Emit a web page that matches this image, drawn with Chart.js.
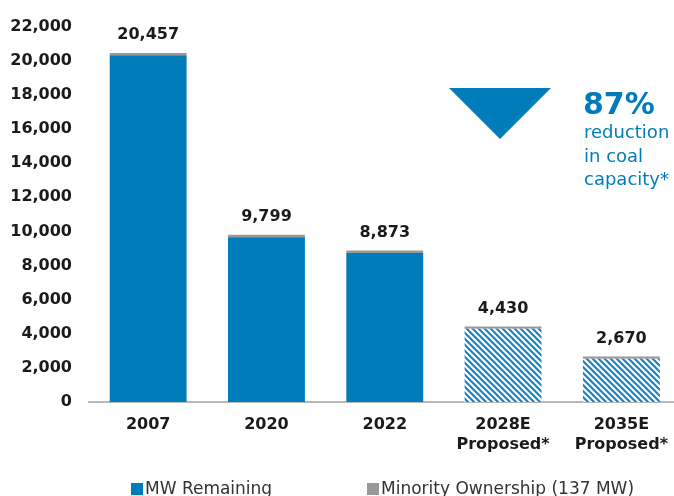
<!DOCTYPE html>
<html>
<head>
<meta charset="utf-8">
<script src="https://cdn.jsdelivr.net/npm/chart.js@4.4.1/dist/chart.umd.min.js"></script>
<style>
  html, body { margin: 0; padding: 0; background: #fff; overflow: hidden; width: 674px; height: 496px; }
  #wrap { position: relative; width: 674px; height: 496px; overflow: hidden; }
  canvas { position: absolute; left: 0; top: 0; }
  .legend { position: absolute; top: 478px; font: 17px "DejaVu Sans", sans-serif; color: #333; white-space: nowrap; }
  .legend i { display: inline-block; width: 12px; height: 12px; margin-right: 2px; vertical-align: -1px; }
</style>
</head>
<body>
<div id="wrap">
  <canvas id="chart" width="681" height="496"></canvas>
  <div class="legend" style="left:131px"><i style="background:#007cba"></i>MW Remaining</div>
  <div class="legend" style="left:367px"><i style="background:#999"></i>Minority Ownership (137 MW)</div>
</div>
<script>
// ========================
// DATA
// ========================
const categories = ["2007", "2020", "2022", ["2028E", "Proposed*"], ["2035E", "Proposed*"]];
const totals = [20457, 9799, 8873, 4430, 2670];
const minority = [137, 137, 137, 137, 137];
const remaining = totals.map((t, i) => t - minority[i]);
const projected = [false, false, false, true, true];
const yTicks = [0, 2000, 4000, 6000, 8000, 10000, 12000, 14000, 16000, 18000, 20000, 22000];

const BLUE = "#007cba";
const GRAY = "#999999";
const FONT = "'DejaVu Sans', sans-serif";

// ========================
// HATCH PATTERN
// ========================
function makeHatch() {
  const tile = document.createElement("canvas");
  tile.width = 6;
  tile.height = 6;
  const c = tile.getContext("2d");
  c.fillStyle = "#fff";
  c.fillRect(0, 0, 6, 6);
  c.strokeStyle = "#1583c2";
  c.lineWidth = 2.1;
  c.beginPath();
  c.moveTo(-1, -1); c.lineTo(7, 7);
  c.moveTo(-1, 5); c.lineTo(1, 7);
  c.moveTo(5, -1); c.lineTo(7, 1);
  c.stroke();
  return c.createPattern(tile, "repeat");
}

const ctx = document.getElementById("chart").getContext("2d");
const hatch = makeHatch();

// ========================
// PLUGINS
// ========================
const totalLabels = {
  id: "totalLabels",
  afterDatasetsDraw(chart) {
    const meta = chart.getDatasetMeta(1);
    const c = chart.ctx;
    c.save();
    c.font = `bold 16px ${FONT}`;
    c.fillStyle = "#1a1a1a";
    c.textAlign = "center";
    c.textBaseline = "middle";
    meta.data.forEach((bar, i) => {
      c.fillText(totals[i].toLocaleString("en-US"), bar.x, bar.y - 18);
    });
    c.restore();
  },
};

const callout = {
  id: "callout",
  afterDraw(chart) {
    const c = chart.ctx;
    c.save();
    c.fillStyle = BLUE;
    c.beginPath();
    c.moveTo(449, 88);
    c.lineTo(551, 88);
    c.lineTo(500, 139);
    c.closePath();
    c.fill();
    c.textAlign = "left";
    c.textBaseline = "alphabetic";
    c.font = `bold 30px ${FONT}`;
    c.fillText("87%", 583, 114);
    c.font = `18px ${FONT}`;
    c.fillText("reduction", 584, 138);
    c.fillText("in coal", 584, 162);
    c.fillText("capacity*", 584, 185);
    c.restore();
  },
};

// ========================
// CHART
// ========================
new Chart(ctx, {
  type: "bar",
  data: {
    labels: categories,
    datasets: [
      {
        label: "MW Remaining",
        data: remaining,
        backgroundColor: projected.map((p) => (p ? hatch : BLUE)),
        barPercentage: 0.65,
        categoryPercentage: 1,
      },
      {
        label: "Minority Ownership (137 MW)",
        data: minority,
        backgroundColor: GRAY,
        barPercentage: 0.65,
        categoryPercentage: 1,
      },
    ],
  },
  options: {
    responsive: false,
    animation: false,
    layout: { padding: { top: 22, left: 0, right: 0, bottom: 0 } },
    plugins: {
      legend: { display: false },
      tooltip: { enabled: false },
    },
    scales: {
      x: {
        stacked: true,
        grid: { display: false, drawTicks: false },
        border: { color: "#b8b8b8", width: 2 },
        ticks: {
          color: "#1a1a1a",
          padding: 13,
          maxRotation: 0,
          font: { family: FONT, size: 16, weight: "bold", lineHeight: 1.25 },
        },
        afterFit: (s) => { s.height = 94; },
      },
      y: {
        stacked: true,
        min: 0,
        max: 22000,
        grid: { display: false, drawTicks: false },
        border: { display: false },
        afterBuildTicks: (s) => { s.ticks = yTicks.map((v) => ({ value: v })); },
        ticks: {
          color: "#1a1a1a",
          padding: 17,
          font: { family: FONT, size: 16, weight: "bold" },
          callback: (v) => Number(v).toLocaleString("en-US"),
        },
        afterFit: (s) => { s.width = 89; },
      },
    },
  },
  plugins: [totalLabels, callout],
});
</script>
</body>
</html>
